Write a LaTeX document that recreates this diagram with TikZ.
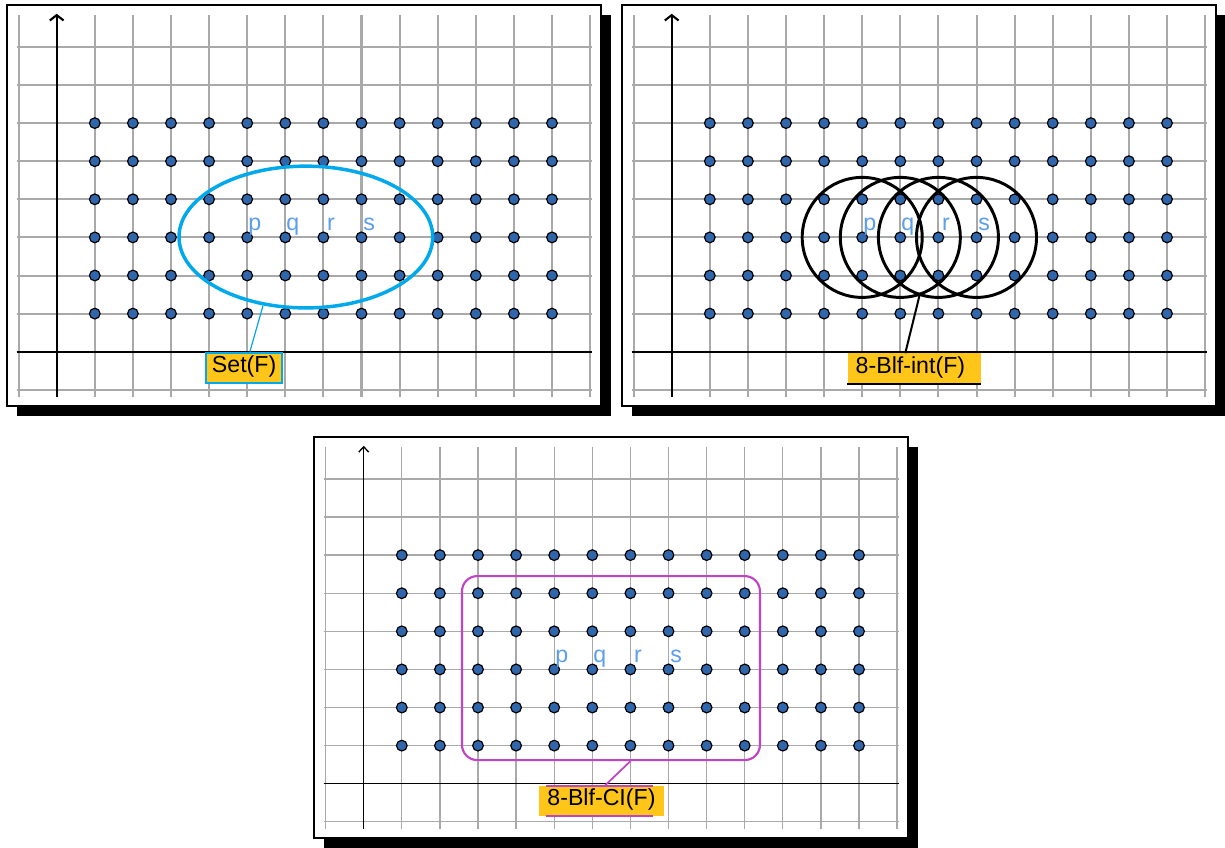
\documentclass[tikz,border=0pt]{standalone}
\usepackage{fontspec}
\setmainfont{Liberation Sans}
\usepackage{xcolor}
\usetikzlibrary{arrows.meta,shapes.geometric}

\definecolor{gridgray}{HTML}{A9A9A9}
\definecolor{dotblue}{HTML}{2F66AC}
\definecolor{lblblue}{HTML}{5C9EEE}
\definecolor{setcyan}{HTML}{00A9EC}
\definecolor{tagyellow}{HTML}{FFC619}
\definecolor{cimagenta}{HTML}{BF45C4}

\begin{document}
\begin{tikzpicture}[x=1cm, y=1cm,
  txt/.style={font=\fontsize{17.3}{20}\selectfont},
  ptlabel/.style={txt, text=lblblue, anchor=base, inner sep=0pt},
  tagbox/.style={txt, fill=tagyellow, anchor=north, minimum height=0.79cm,
    inner ysep=0pt, text height=0.92em, text depth=0.2em},
  dot/.style={fill=dotblue, draw=black, line width=0.9pt}]
  \useasboundingbox (-1.488,-13.026) rectangle (30.664,9.231);
  % the three lattice panels: shift / prefix / grid width / axis width / tip width
  \foreach \sx/\sy/\pre/\gw/\aw/\tw in {0/0/a/1.5pt/1.6pt/0.36cm,
      16.142/0/b/1.5pt/1.6pt/0.36cm, 8.058/-11.339/c/1pt/1pt/0.26cm} {
    \begin{scope}[shift={(\sx,\sy)}]
      % shadow and frame
      \fill (-1.04,-1.68) rectangle (14.54,8.85);
      \filldraw[fill=white, line width=1.5pt] (-1.304,-1.417) rectangle (14.28,9.105);
      % grid
      \foreach \x in {-1,...,14} \draw[gridgray, line width=\gw] (\x,-1.19) -- (\x,8.84);
      \foreach \y in {-1,...,8} \draw[gridgray, line width=\gw] (-1.05,\y) -- (14.05,\y);
      % axes
      \draw[line width=\aw, -{Straight Barb[length=0.14cm, width=\tw]}] (0,-1.19) -- (0,8.87);
      \draw[line width=\aw] (-1.05,0) -- (14.05,0);
      % lattice points
      \foreach \i in {1,...,13} \foreach \j in {1,...,6} \path[dot] (\i,\j) circle (0.14);
      % the four named points
      \foreach \x/\n in {5/p,6/q,7/r,8/s} \node[ptlabel] (\pre\n) at (\x+0.2,3.18) {\n};
    \end{scope}
  }
  % Set(F): ellipse round p,q,r,s
  \node[ellipse, draw=setcyan, line width=2.6pt, minimum width=6.66cm,
    minimum height=3.72cm, inner sep=0pt] (setell) at (6.54,3.01) {};
  \node[tagbox, draw=setcyan, line width=1.5pt, inner xsep=4.2pt] (setlbl) at (4.92,0) {Set(F)};
  \draw[setcyan, line width=0.9pt] (setell.238) -- ([xshift=0.15cm]setlbl.north);
  % 8-Blf-int(F): four discs
  \begin{scope}[shift={(16.142,0)}]
    \foreach \x/\n in {5/p,6/q,7/r,8/s}
      \node[circle, draw, line width=2.2pt, minimum size=3.15cm, inner sep=0pt] (c\n) at (\x,3) {};
    \node[tagbox, text width=3.08cm, align=left, inner xsep=0.21cm] (intlbl) at (6.37,-0.04) {8-Blf-int(F)};
    \draw[line width=1.6pt] (intlbl.south west) -- (intlbl.south east);
    \draw[line width=1.5pt] (cr.252) -- ([xshift=-0.24cm]intlbl.north);
  \end{scope}
  % 8-Blf-CI(F): rounded box
  \begin{scope}[shift={(8.058,-11.339)}]
    \node[draw=cimagenta, line width=1.6pt, rounded corners=0.4cm, minimum width=7.82cm,
      minimum height=4.83cm] (cibox) at (6.49,3.035) {};
    \node[tagbox, minimum width=3.28cm] (cilbl) at (6.24,-0.05) {8-Blf-CI(F)};
    \draw[cimagenta, line width=1.6pt] ([xshift=0.19cm]cilbl.north west) -- ([xshift=-0.29cm]cilbl.north east);
    \draw[cimagenta, line width=1.6pt] ([xshift=0.19cm]cilbl.south west) -- ([xshift=-0.29cm]cilbl.south east);
    \draw[cimagenta, line width=1.3pt] ([xshift=0.51cm]cibox.south) -- ([xshift=0.09cm]cilbl.north);
  \end{scope}
\end{tikzpicture}
\end{document}
